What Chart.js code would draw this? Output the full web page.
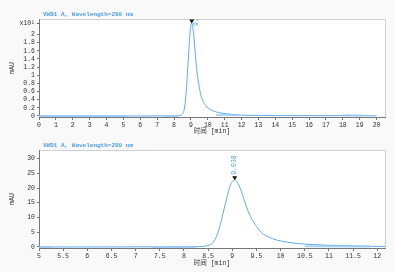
<!DOCTYPE html>
<html>
<head>
<meta charset="utf-8">
<script src="https://cdn.jsdelivr.net/npm/chart.js@4"></script>
<style>
  html, body { margin:0; padding:0; background:#f9f9f9; }
  .box { position:absolute; left:0; width:394px; height:136px; }
  #topBox { top:0; }
  #botBox { top:136px; }
</style>
</head>
<body>
<div class="box" id="topBox"><canvas id="topChart" width="394" height="136"></canvas></div>
<div class="box" id="botBox"><canvas id="botChart" width="394" height="136"></canvas></div>
<script>
// chromatogram, VWD1 A 280 nm (time in min, signal in mAU)
const timeMin   = [0, 5, 7.6, 7.8, 8.0, 8.2, 8.4, 8.5, 8.6, 8.68, 8.75, 8.83, 8.9, 8.95, 9.0, 9.05, 9.1, 9.17, 9.24, 9.31, 9.4, 9.5, 9.59, 9.75, 9.93, 10.15, 10.41, 10.7, 10.96, 11.3, 11.65, 12, 13, 14, 16, 18, 18.3, 18.6, 20];
const signalMAU = [0, 0, 0.05, 0.1, 0.05, 0.1, 0.2, 0.5, 1.5, 3.9, 7.5, 12.9, 17.5, 20.5, 22.2, 22.8, 22.0, 19.7, 16.3, 12.9, 9.6, 7.0, 5.1, 3.4, 2.3, 1.6, 1.1, 0.8, 0.6, 0.45, 0.3, 0.2, 0.15, 0.1, 0.08, 0.08, 0.2, 0.1, 0.05];
// integration baseline segments (null = gap)
const baseTime  = [0, 5.25, null, 7.35, 8.25, null, 10.5, 11.85, null, 18.0, 19.2];
const baseMAU   = [0, 0, null, 0, 0, null, 0.25, 0.15, null, 0.1, 0.1];
const peakTime  = 9.038;
const peakLabel = "9.038";

const topXTicks = [0,1,2,3,4,5,6,7,8,9,10,11,12,13,14,15,16,17,18,19,20];
const topYTicks = [0,2,4,6,8,10,12,14,16,18,20];   // shown in x10 mAU
const botXTicks = [5,5.5,6,6.5,7,7.5,8,8.5,9,9.5,10,10.5,11,11.5,12];
const botYTicks = [0,5,10,15,20,25,30];

const titleText = "VWD1 A, Wavelength=280 nm";
const yTitle = "mAU";
const xTitle = "时间 [min]";

const lineBlue = "#5eacf0";
const textBlue = "#4a9ee8";
const tickFont = { family:"'Liberation Mono', monospace", size:6.5 };

function toPoints(xs, ys){
  return xs.map((x,i) => x === null ? {x:null, y:null} : {x:x, y:ys[i]});
}
const mainPts = toPoints(timeMin, signalMAU);
const basePts = toPoints(baseTime, baseMAU);
const peakIdx = timeMin.indexOf(9.05);

const decoPlugin = {
  id:"deco",
  beforeDraw(chart, args, o){
    const c = chart.ctx, a = chart.chartArea;
    c.save();
    c.fillStyle = "#ffffff";
    c.fillRect(a.left, a.top, a.right - a.left, a.bottom - a.top);
    c.strokeStyle = "#cfcfcf";
    c.lineWidth = 1;
    c.beginPath();
    c.moveTo(a.left, a.top + 0.5); c.lineTo(a.right + 0.5, a.top + 0.5); c.lineTo(a.right + 0.5, a.bottom);
    c.stroke();
    c.restore();
  },
  afterDraw(chart, args, o){
    const c = chart.ctx, a = chart.chartArea;
    const xs = chart.scales.x, ys = chart.scales.y;
    c.save();
    // chart title
    c.fillStyle = textBlue;
    c.font = "bold 6px 'Liberation Mono', monospace";
    c.textBaseline = "middle";
    c.textAlign = "left";
    c.fillText(titleText, a.left + 4, a.top - 4.5);
    // axis titles
    c.fillStyle = "#333";
    c.font = "6.5px 'Liberation Mono', 'Noto Sans CJK SC', monospace";
    c.textAlign = "center";
    c.fillText(xTitle, (a.left + a.right) / 2 + 0, o.xTitleY);
    c.save();
    c.translate(12, (a.top + a.bottom) / 2);
    c.rotate(-Math.PI / 2);
    c.fillText(yTitle, 0, 0);
    c.restore();
    if (o.exponent){
      c.textAlign = "right";
      c.fillText("x10¹", a.left - 4, a.top + 4.5);
      c.beginPath(); c.strokeStyle = "#666";
      c.moveTo(a.left - 2, a.top + 4.5); c.lineTo(a.left, a.top + 4.5); c.stroke();
    }
    // peak marker + label
    const px = xs.getPixelForValue(timeMin[peakIdx]);
    const py = ys.getPixelForValue(signalMAU[peakIdx]);
    c.beginPath();
    c.rect(a.left, a.top, a.right - a.left, a.bottom - a.top);
    c.clip();
    c.fillStyle = "#111";
    c.beginPath();
    c.moveTo(px - 2.5, py - 3.5); c.lineTo(px + 2.5, py - 3.5); c.lineTo(px, py + 0.5); c.closePath();
    c.fill();
    c.fillStyle = textBlue;
    c.font = "6.5px 'Liberation Mono', monospace";
    c.translate(px + o.labelDx, py - 5);
    c.rotate(-Math.PI / 2);
    c.textAlign = "left";
    c.textBaseline = "middle";
    c.fillText(peakLabel, o.labelShift, 0);
    c.restore();
  }
};

function makeOptions(cfg){
  return {
    responsive:false,
    animation:false,
    layout:{ padding:{ top:cfg.padTop, right:9, left:0, bottom:0 } },
    plugins:{ legend:{ display:false }, tooltip:{ enabled:false }, deco:cfg.deco },
    scales:{
      x:{
        type:"linear", min:cfg.xMin, max:cfg.xMax,
        afterBuildTicks: s => { s.ticks = cfg.xTicks.map(v => ({value:v})); },
        afterFit: s => { s.height = cfg.xHeight; },
        border:{ display:true, color:"#777", width:1 },
        grid:{ drawOnChartArea:false, drawTicks:true, tickLength:3, color:"#777" },
        ticks:{ color:"#333", font:tickFont, padding:1, maxRotation:0, autoSkip:false,
                callback: v => String(v) }
      },
      y:{
        type:"linear", min:cfg.yMin, max:cfg.yMax,
        afterBuildTicks: s => { s.ticks = cfg.yTicks.map(v => ({value:v})); },
        afterFit: s => { s.width = 39; },
        border:{ display:true, color:"#777", width:1 },
        grid:{ drawOnChartArea:false, drawTicks:true, tickLength:2, color:"#777" },
        ticks:{ color:"#333", font:tickFont, padding:2, autoSkip:false, callback:cfg.yFmt }
      }
    }
  };
}

function makeData(){
  return {
    datasets:[
      { data:basePts, borderColor:"rgba(150,200,245,0.8)", borderWidth:2, pointRadius:0, spanGaps:false, tension:0 },
      { data:mainPts, borderColor:lineBlue, borderWidth:1, pointRadius:0, cubicInterpolationMode:"monotone" }
    ]
  };
}

new Chart(document.getElementById("topChart").getContext("2d"), {
  type:"line",
  data:makeData(),
  options:makeOptions({
    padTop:19, xMin:0, xMax:20.5, xTicks:topXTicks, xHeight:19,
    yMin:-0.25, yMax:23.8, yTicks:topYTicks,
    yFmt: v => String(Math.round(v) / 10),
    deco:{ xTitleY:131, exponent:true, labelDx:5, labelShift:-8 }
  }),
  plugins:[decoPlugin]
});

new Chart(document.getElementById("botChart").getContext("2d"), {
  type:"line",
  data:makeData(),
  options:makeOptions({
    padTop:14, xMin:5, xMax:12.16, xTicks:botXTicks, xHeight:24,
    yMin:-0.34, yMax:32.9, yTicks:botYTicks,
    yFmt: v => String(v),
    deco:{ xTitleY:127, exponent:false, labelDx:0, labelShift:0 }
  }),
  plugins:[decoPlugin]
});
</script>
</body>
</html>
